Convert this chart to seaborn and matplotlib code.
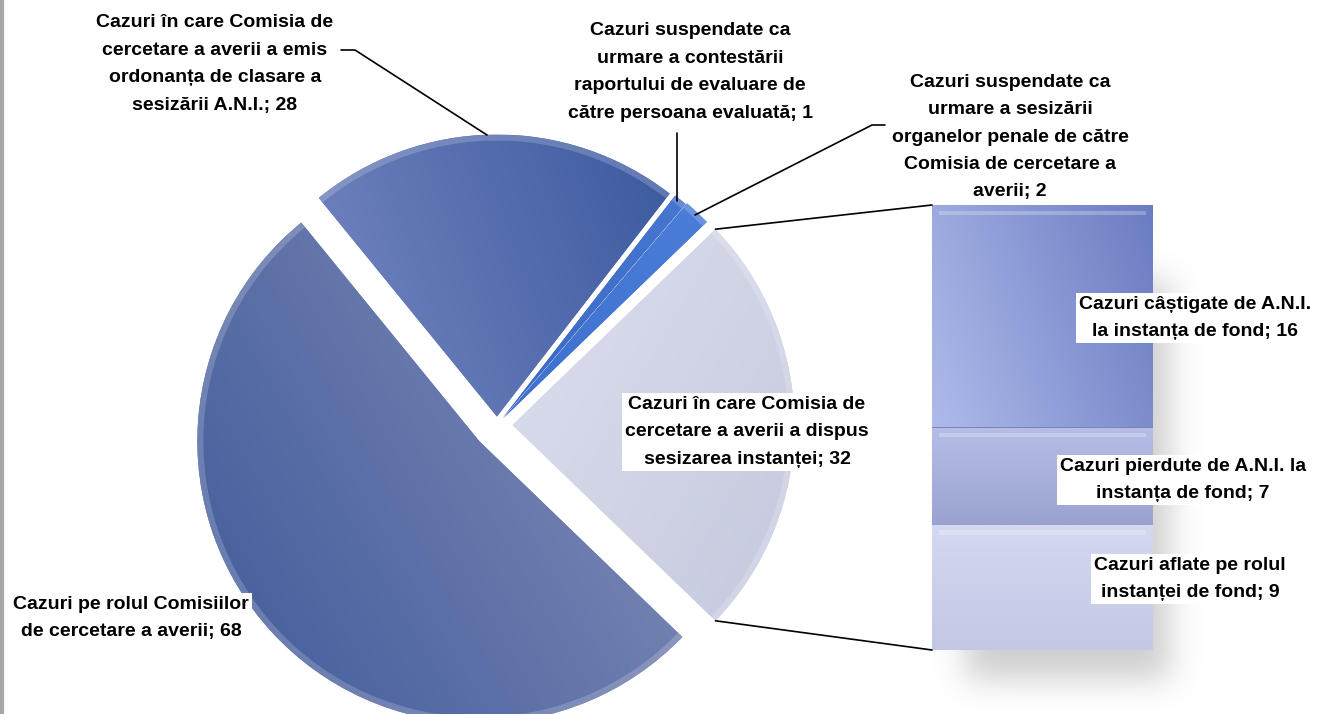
import math
import numpy as np
import matplotlib
matplotlib.use("Agg")
import matplotlib.pyplot as plt
import seaborn as sns
from matplotlib import font_manager
from matplotlib.colors import LinearSegmentedColormap
from matplotlib.patches import ConnectionPatch, Wedge

# pie data (order: drawn counter-clockwise starting with the "other" slice)
pie_labels = [
    "Cazuri în care Comisia de\ncercetare a averii a dispus\nsesizarea instanței; 32",
    "Cazuri suspendate ca\nurmare a sesizării\norganelor penale de către\nComisia de cercetare a\naverii; 2",
    "Cazuri suspendate ca\nurmare a contestării\nraportului de evaluare de\ncătre persoana evaluată; 1",
    "Cazuri în care Comisia de\ncercetare a averii a emis\nordonanța de clasare a\nsesizării A.N.I.; 28",
    "Cazuri pe rolul Comisiilor\nde cercetare a averii; 68",
]
pie_values = [32, 2, 1, 28, 68]

# bar (breakdown of the 32 slice), top to bottom
bar_labels = [
    "Cazuri câștigate de A.N.I.\nla instanța de fond; 16",
    "Cazuri pierdute de A.N.I. la\ninstanța de fond; 7",
    "Cazuri aflate pe rolul\ninstanței de fond; 9",
]
bar_values = [16, 7, 9]

sns.set_theme(style="white")
installed = {f.name for f in font_manager.fontManager.ttflist}
family = "Liberation Sans Narrow" if "Liberation Sans Narrow" in installed else "Liberation Sans"
plt.rcParams['font.family'] = [family, 'DejaVu Sans']

W, H = 1321, 714
fig = plt.figure(figsize=(W / 100, H / 100), dpi=100)

# background layer for soft shadows
sx = fig.add_axes([0, 0, 1, 1])
sx.set_zorder(1)
sx.axis("off")

ax = fig.add_axes([0, 0, 1, 1])
ax.set_zorder(3)
ax.patch.set_visible(False)

def grad_fill(axis, patch, extent, c1, c2, angle, z):
    xx, yy = np.meshgrid(np.linspace(0, 1, 64), np.linspace(0, 1, 64))
    a = np.deg2rad(angle)
    t = xx * np.cos(a) + yy * np.sin(a)
    t = (t - t.min()) / (t.max() - t.min())
    cmap = LinearSegmentedColormap.from_list("g", [c1, c2])
    im = axis.imshow(t, extent=extent, origin="lower", cmap=cmap,
                     interpolation="bilinear", zorder=z, aspect="auto")
    im.set_clip_path(patch)

# pie
cx, cy, R = 497, H - 425, 282
start = -360 * pie_values[0] / sum(pie_values) / 2
explode = [0.055, 0.035, 0.03, 0.03, 0.085]
pie_colors = ["#d3d6e9", "#3a68c8", "#3563c0", "#5d71b4", "#6c79ae"]
grads = [("#eceef7", "#c3c7dd", -30), ("#2b5bc0", "#4f82dc", 45),
         ("#2a57b5", "#4a7bd4", 45), ("#8e9bcf", "#2f4f98", 20),
         ("#3f5a9a", "#9199bf", 30)]
wedges, _ = ax.pie(pie_values, startangle=start, counterclock=True,
                   center=(cx, cy), radius=R, explode=[e * R for e in explode],
                   colors=pie_colors,
                   wedgeprops=dict(linewidth=0, edgecolor="none"))
for w, (c1, c2, ang) in zip(wedges, grads):
    wx, wy = w.center
    grad_fill(ax, w, (wx - R, wx + R, wy - R, wy + R), c1, c2, ang, 2)
    ax.add_patch(Wedge(w.center, w.r, w.theta1, w.theta2, width=6,
                       facecolor="white", alpha=0.18, lw=0, zorder=3))

ax.set_xlim(0, W)
ax.set_ylim(0, H)
ax.set_aspect("auto")
ax.axis("off")

# stacked bar of the 32 slice
bx = fig.add_axes([932 / W, (H - 650) / H, 221 / W, 445 / H])
bx.set_zorder(2)
bx.patch.set_visible(False)
bar_grads = [("#6b7dc2", "#aebaea", 200), ("#9aa2d1", "#b6bee6", 90),
             ("#c3c8e5", "#d4d8f0", 90)]
bottoms = np.cumsum([0] + bar_values[::-1][:-1])[::-1]
for val, bot, (c1, c2, ang) in zip(bar_values, bottoms, bar_grads):
    rect = bx.bar(0, val, bottom=bot, width=1, color=c2, edgecolor="#7a84ba",
                  linewidth=1.4, zorder=2)[0]
    grad_fill(bx, rect, (-0.5, 0.5, bot, bot + val), c1, c2, ang, 3)
    # light bevel along the top of each block
    bx.bar(0, 0.3, bottom=bot + val - 0.7, width=0.94, color="white",
           alpha=0.25, lw=0, zorder=4)
bx.set_xlim(-0.5, 0.5)
bx.set_ylim(0, sum(bar_values))
bx.axis("off")

# soft blurred shadow behind the bar
erf = np.vectorize(math.erf)
gx = np.linspace(880, 1250, 180)
gy = np.linspace(200, 714, 240)
sig = 22.0
fx = 0.5 * (erf((gx - 965) / sig) - erf((gx - 1170) / sig))
fy = 0.5 * (erf((gy - 280) / sig) - erf((gy - 680) / sig))
alpha = np.outer(fy, fx) * 0.38
rgba = np.zeros(alpha.shape + (4,))
rgba[..., :3] = 0.5
rgba[..., 3] = alpha
sx.imshow(rgba, extent=(880, 1250, H - 714, H - 200), origin="upper",
          interpolation="bilinear", aspect="auto")
sx.set_xlim(0, W)
sx.set_ylim(0, H)

# connector lines from the "other" slice to the bar
w32 = wedges[0]
for theta, ybar in [(w32.theta2, 1), (w32.theta1, 0)]:
    px = w32.center[0] + R * np.cos(np.deg2rad(theta))
    py = w32.center[1] + R * np.sin(np.deg2rad(theta))
    con = ConnectionPatch(xyA=(px, py), coordsA=ax.transData,
                          xyB=(-0.5, ybar * sum(bar_values)), coordsB=bx.transData,
                          color="black", lw=1.2)
    con.set_zorder(5)
    fig.add_artist(con)

fs = 14
tkw = dict(ha="center", va="center", fontsize=fs, fontweight="bold",
           color="black", linespacing=1.8, zorder=10)
box = dict(facecolor="white", edgecolor="none", pad=2)

ax.text(747, H - 432, pie_labels[0], bbox=box, **tkw)
ax.text(1010, H - 137, pie_labels[1], **tkw)
ax.text(690, H - 72, pie_labels[2], **tkw)
ax.text(215, H - 64, pie_labels[3], **tkw)
ax.text(131, H - 618, pie_labels[4], bbox=box, **tkw)

for lbl, (tx, ty) in zip(bar_labels, [(1195, 318), (1183, 480), (1190, 579)]):
    ax.text(tx, H - ty, lbl, bbox=box, **tkw)

# leader lines
ax.plot([341, 355, 487], [H - 50, H - 50, H - 135], color="black", lw=1.2, zorder=9)
ax.plot([677, 677], [H - 133, H - 201], color="black", lw=1.2, zorder=9)
ax.plot([885, 872, 695], [H - 125, H - 125, H - 215], color="black", lw=1.2, zorder=9)

# grey left border
fig.add_artist(plt.Line2D([1.5 / W, 1.5 / W], [0, 1], color="#a6a6a6", lw=3,
                          transform=fig.transFigure))

fig.savefig("out.png", dpi=100)
